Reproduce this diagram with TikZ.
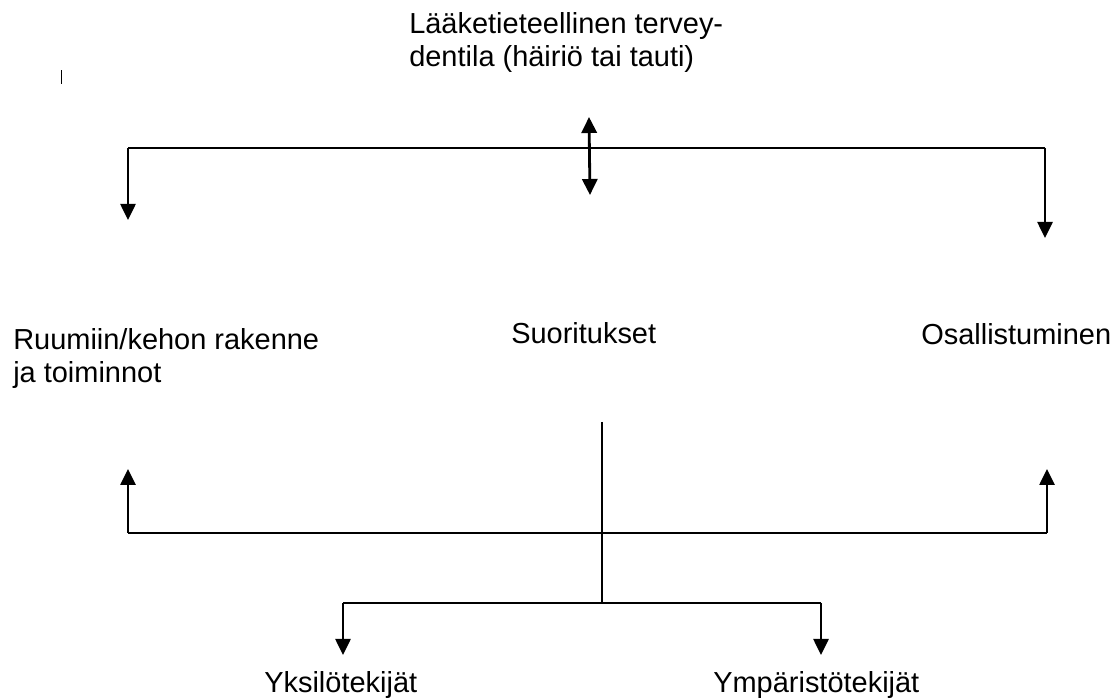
\documentclass[tikz,border=0pt]{standalone}
\usepackage{fontspec}
\setmainfont{Liberation Sans}
\usetikzlibrary{arrows.meta}

\begin{document}
\begin{tikzpicture}[x=1cm,y=1cm]
\tikzset{
  labeltext/.style={inner sep=0pt,anchor=base west,align=left,font=\fontsize{20.6}{24}\selectfont},
  connline/.style={draw=black,line width=1.4pt,line cap=butt,line join=miter},
  arrowed/.style={connline,-{Triangle[length=4mm,width=3.8mm]}},
  twoway/.style={connline,line width=2pt,{Triangle[length=4mm,width=3.8mm]}-{Triangle[length=4mm,width=3.8mm]}}
}
\useasboundingbox (0,0) rectangle (27.875,17.475);
\node[labeltext] (n_health) at (10.225,15.8) {Lääketieteellinen tervey-\\dentila (häiriö tai tauti)};
\node[labeltext] (n_body) at (0.325,7.9) {Ruumiin/kehon rakenne\\ja toiminnot};
\node[labeltext] (n_activity) at (12.775,8.875) {Suoritukset};
\node[labeltext] (n_particip) at (23.025,8.85) {Osallistuminen};
\node[labeltext] (n_personal) at (6.6,0.15) {Yksilötekijät};
\node[labeltext] (n_environ) at (17.825,0.15) {Ympäristötekijät};
\coordinate (c_topl) at (3.2,13.775);
\coordinate (c_topr) at (26.125,13.775);
\coordinate (c_tipbody) at (3.2,11.975);
\coordinate (c_tippart) at (26.125,11.525);
\coordinate (c_up) at (14.725,14.55);
\coordinate (c_down) at (14.75,12.6);
\coordinate (c_stem) at (15.05,6.925);
\coordinate (c_cross) at (15.05,4.15);
\coordinate (c_fork) at (15.05,2.4);
\coordinate (c_envl) at (3.2,4.15);
\coordinate (c_envr) at (26.175,4.15);
\coordinate (c_upbody) at (3.2,5.75);
\coordinate (c_uppart) at (26.175,5.75);
\coordinate (c_forkl) at (8.575,2.4);
\coordinate (c_forkr) at (20.525,2.4);
\coordinate (c_tippers) at (8.575,1.1);
\coordinate (c_tipenv) at (20.525,1.1);
% stray mark
\draw[line width=1.4pt] (1.5375,15.72) -- (1.5375,15.375);
% upper bracket
\draw[connline] (c_topl) -- (c_topr);
\draw[arrowed] (c_topl) -- (c_tipbody);
\draw[arrowed] (c_topr) -- (c_tippart);
\draw[twoway] (c_up) -- (c_down);
% lower bracket
\draw[connline] (c_stem) -- (c_fork);
\draw[connline] (c_envl) -- (c_envr);
\draw[arrowed] (c_envl) -- (c_upbody);
\draw[arrowed] (c_envr) -- (c_uppart);
\draw[connline] (c_forkl) -- (c_forkr);
\draw[arrowed] (c_forkl) -- (c_tippers);
\draw[arrowed] (c_forkr) -- (c_tipenv);
\end{tikzpicture}
\end{document}
